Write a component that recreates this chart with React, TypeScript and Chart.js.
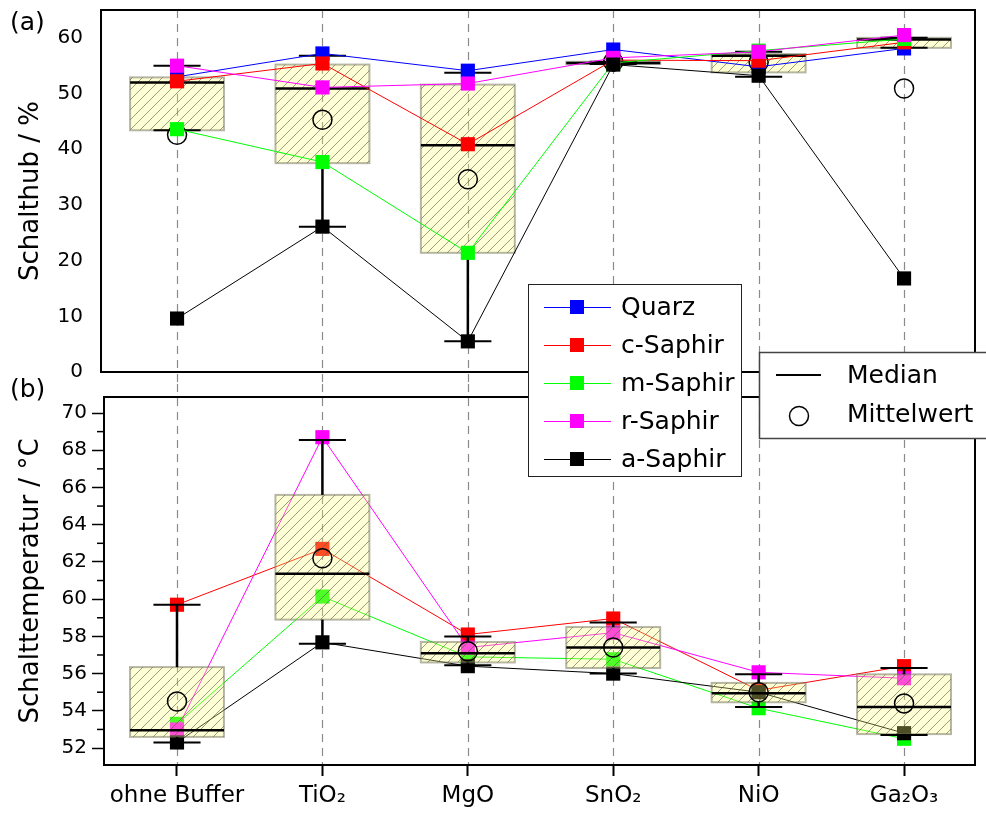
import React, { useEffect, useRef } from 'react';
import { Chart, registerables } from 'chart.js';

Chart.register(...registerables);

const FONT = "'DejaVu Sans', sans-serif";

const categories = ['ohne Buffer', 'TiO₂', 'MgO', 'SnO₂', 'NiO', 'Ga₂O₃'];
const seriesNames = ['Quarz', 'c-Saphir', 'm-Saphir', 'r-Saphir', 'a-Saphir'];
const seriesColors = ['#0000ff', '#ff0000', '#00ff00', '#ff00ff', '#000000'];

// (a) Schalthub / %
const hubQuarz = [53.0, 57.2, 54.1, 57.9, 54.8, 58.1];
const hubC = [52.2, 55.4, 40.9, 56.0, 55.9, 59.2];
const hubM = [43.6, 37.7, 21.4, 55.5, 57.7, 59.8];
const hubR = [55.0, 51.1, 51.8, 56.4, 57.5, 60.5];
const hubA = [9.6, 26.1, 5.5, 55.2, 53.2, 16.8];

// (a) box statistics
const hubQ1 = [43.4, 37.5, 21.4, 55.3, 53.8, 58.2];
const hubQ3 = [52.9, 55.2, 51.6, 55.7, 57.1, 60.0];
const hubMedian = [52.0, 50.9, 40.7, 55.5, 56.8, 59.7];
const hubWhiskerLow = [43.4, 26.1, 5.5, 55.3, 53.0, 58.2];
const hubWhiskerHigh = [55.0, 56.8, 53.75, 55.7, 57.5, 60.0];
const hubMean = [42.6, 45.3, 34.6, 55.7, 55.6, 50.9];

// (b) Schalttemperatur / °C  (no Quarz data)
const tempC = [59.7, 62.7, 58.1, 58.96, 55.1, 56.4];
const tempM = [53.3, 60.14, 56.9, 56.77, 54.14, 52.5];
const tempR = [53.0, 68.7, 57.4, 58.2, 56.07, 55.75];
const tempA = [52.3, 57.68, 56.4, 56.0, 55.0, 52.8];

// (b) box statistics
const tempQ1 = [52.6, 58.9, 56.6, 56.3, 54.46, 52.75];
const tempQ3 = [56.35, 65.6, 57.7, 58.5, 55.5, 55.96];
const tempMedian = [52.96, 61.37, 57.1, 57.4, 54.95, 54.2];
const tempWhiskerLow = [52.3, 57.6, 56.45, 56.0, 54.2, 52.7];
const tempWhiskerHigh = [59.7, 68.55, 58.0, 58.75, 55.96, 56.3];
const tempMean = [54.5, 62.2, 57.2, 57.4, 55.0, 54.4];

const hubTicks = [0, 10, 20, 30, 40, 50, 60];
const tempTicks = [52, 54, 56, 58, 60, 62, 64, 66, 68, 70];
const tempMinorTicks = [53, 55, 57, 59, 61, 63, 65, 67, 69];

const BOX_HALF = 0.323;
const CAP_HALF = 0.162;
const GAP_Y = 384;

type Stats = { q1: number[]; q3: number[]; med: number[]; lo: number[]; hi: number[]; mean: number[] };

const hubStats: Stats = { q1: hubQ1, q3: hubQ3, med: hubMedian, lo: hubWhiskerLow, hi: hubWhiskerHigh, mean: hubMean };
const tempStats: Stats = { q1: tempQ1, q3: tempQ3, med: tempMedian, lo: tempWhiskerLow, hi: tempWhiskerHigh, mean: tempMean };

function hatchTile(): HTMLCanvasElement {
  const c = document.createElement('canvas');
  c.width = 10;
  c.height = 10;
  const g = c.getContext('2d')!;
  g.strokeStyle = 'rgba(90,90,70,0.6)';
  g.lineWidth = 1;
  g.beginPath();
  g.moveTo(-1, 11);
  g.lineTo(11, -1);
  g.moveTo(-6, 6);
  g.lineTo(6, -6);
  g.moveTo(4, 16);
  g.lineTo(16, 4);
  g.stroke();
  return c;
}

function line(ctx: CanvasRenderingContext2D, x1: number, y1: number, x2: number, y2: number) {
  ctx.beginPath();
  ctx.moveTo(x1, y1);
  ctx.lineTo(x2, y2);
  ctx.stroke();
}

function drawCategoryLines(chart: any, fromY: number, toY: number) {
  const { ctx } = chart;
  const xs = chart.scales.x;
  ctx.save();
  ctx.strokeStyle = '#8a8a8a';
  ctx.lineWidth = 1.2;
  ctx.setLineDash([8, 6]);
  categories.forEach((_, i) => {
    const x = Math.round(xs.getPixelForValue(i)) + 0.5;
    line(ctx, x, fromY, x, toY);
  });
  ctx.restore();
}

function drawBoxes(chart: any, s: Stats) {
  const { ctx } = chart;
  const xs = chart.scales.x;
  const ys = chart.scales.y;
  const pattern = ctx.createPattern(hatchTile(), 'repeat');
  ctx.save();
  categories.forEach((_, i) => {
    const cx = xs.getPixelForValue(i);
    const hw = xs.getPixelForValue(i + BOX_HALF) - cx;
    const cw = xs.getPixelForValue(i + CAP_HALF) - cx;
    const top = ys.getPixelForValue(s.q3[i]);
    const bot = ys.getPixelForValue(s.q1[i]);
    ctx.fillStyle = 'rgba(255,255,120,0.3)';
    ctx.fillRect(cx - hw, top, 2 * hw, bot - top);
    if (pattern) {
      ctx.fillStyle = pattern;
      ctx.fillRect(cx - hw, top, 2 * hw, bot - top);
    }
    ctx.strokeStyle = 'rgba(110,110,85,0.5)';
    ctx.lineWidth = 2;
    ctx.strokeRect(cx - hw, top, 2 * hw, bot - top);

    const yHi = ys.getPixelForValue(s.hi[i]);
    const yLo = ys.getPixelForValue(s.lo[i]);
    ctx.strokeStyle = '#000';
    ctx.lineWidth = 2.5;
    if (yHi < top) line(ctx, cx, top, cx, yHi);
    if (yLo > bot) line(ctx, cx, bot, cx, yLo);
    ctx.lineWidth = 2;
    line(ctx, cx - cw, yHi, cx + cw, yHi);
    line(ctx, cx - cw, yLo, cx + cw, yLo);

    const yMed = ys.getPixelForValue(s.med[i]);
    ctx.lineWidth = 2.5;
    line(ctx, cx - hw, yMed, cx + hw, yMed);

    const yMean = ys.getPixelForValue(s.mean[i]);
    ctx.lineWidth = 1.5;
    ctx.beginPath();
    ctx.arc(cx, yMean, 9.5, 0, Math.PI * 2);
    ctx.stroke();
  });
  ctx.restore();
}

function drawFrame(chart: any) {
  const { ctx, chartArea: a } = chart;
  ctx.save();
  ctx.strokeStyle = '#000';
  ctx.lineWidth = 2;
  ctx.strokeRect(a.left, a.top, a.right - a.left, a.bottom - a.top);
  ctx.restore();
}

function drawPanelLabel(ctx: CanvasRenderingContext2D, text: string, x: number, y: number) {
  ctx.save();
  ctx.fillStyle = '#000';
  ctx.font = `25px ${FONT}`;
  ctx.textBaseline = 'middle';
  ctx.textAlign = 'left';
  ctx.fillText(text, x, y);
  ctx.restore();
}

function drawLegends(ctx: CanvasRenderingContext2D) {
  ctx.save();
  ctx.font = `25px ${FONT}`;
  ctx.textBaseline = 'middle';
  ctx.textAlign = 'left';

  ctx.fillStyle = '#fff';
  ctx.fillRect(528, 284, 214, 193);
  ctx.strokeStyle = '#222';
  ctx.lineWidth = 1;
  ctx.strokeRect(528.5, 284.5, 213, 192);
  seriesNames.forEach((name, k) => {
    const y = 307 + 38 * k;
    ctx.strokeStyle = seriesColors[k];
    ctx.lineWidth = 1;
    line(ctx, 544, y + 0.5, 611, y + 0.5);
    ctx.fillStyle = seriesColors[k];
    ctx.fillRect(570, y - 7, 14, 14);
    ctx.fillStyle = '#000';
    ctx.fillText(name, 621, y + 1);
  });

  ctx.fillStyle = '#fff';
  ctx.fillRect(759, 352, 240, 87);
  ctx.strokeStyle = '#444';
  ctx.lineWidth = 1.5;
  ctx.strokeRect(759.5, 352.5, 240, 86);
  ctx.strokeStyle = '#000';
  ctx.lineWidth = 2;
  line(ctx, 776, 375, 821, 375);
  ctx.lineWidth = 1.5;
  ctx.beginPath();
  ctx.arc(799, 416, 9.5, 0, Math.PI * 2);
  ctx.stroke();
  ctx.fillStyle = '#000';
  ctx.fillText('Median', 847, 376);
  ctx.fillText('Mittelwert', 847, 415);
  ctx.restore();
}

function series(values: number[], k: number) {
  return {
    label: seriesNames[k],
    data: values.map((v, i) => ({ x: i, y: v })),
    borderColor: seriesColors[k],
    backgroundColor: seriesColors[k],
    borderWidth: 1,
    pointStyle: 'rect' as const,
    pointRadius: 10,
    pointHoverRadius: 10,
    pointBorderWidth: 0,
    tension: 0,
    order: 5 - k,
  };
}

export default function App() {
  const topRef = useRef<HTMLCanvasElement>(null);
  const botRef = useRef<HTMLCanvasElement>(null);

  useEffect(() => {
    Chart.defaults.font.family = FONT;
    Chart.defaults.color = '#000';

    const topPlugin = {
      id: 'panelA',
      beforeDatasetsDraw(chart: any) {
        drawCategoryLines(chart, chart.chartArea.top, GAP_Y);
        drawBoxes(chart, hubStats);
      },
      afterDraw(chart: any) {
        drawFrame(chart);
        drawPanelLabel(chart.ctx, '(a)', 10, 23);
      },
    };

    const botPlugin = {
      id: 'panelB',
      beforeDatasetsDraw(chart: any) {
        drawCategoryLines(chart, GAP_Y, chart.chartArea.bottom);
      },
      afterDatasetsDraw(chart: any) {
        drawBoxes(chart, tempStats);
      },
      afterDraw(chart: any) {
        const { ctx, chartArea: a } = chart;
        const ys = chart.scales.y;
        drawFrame(chart);
        ctx.save();
        ctx.strokeStyle = '#000';
        ctx.lineWidth = 1.5;
        tempMinorTicks.forEach((v) => {
          const y = ys.getPixelForValue(v);
          line(ctx, a.left - 7, y, a.left, y);
        });
        ctx.restore();
        drawPanelLabel(ctx, '(b)', 10, 390);
        drawLegends(ctx);
      },
    };

    const hubSeries = [hubQuarz, hubC, hubM, hubR, hubA];
    const topChart = new Chart(topRef.current!, {
      type: 'line',
      data: { datasets: hubSeries.map((v, k) => series(v, k)) },
      options: {
        responsive: false,
        animation: false,
        devicePixelRatio: 1,
        events: [],
        layout: { padding: { left: 0, top: 9, right: 11, bottom: 442 } },
        plugins: { legend: { display: false }, tooltip: { enabled: false } },
        scales: {
          x: { type: 'linear', display: false, min: -0.523, max: 5.488 },
          y: {
            type: 'linear',
            min: 0,
            max: 65,
            afterBuildTicks: (scale: any) => {
              scale.ticks = hubTicks.map((v) => ({ value: v }));
            },
            afterFit: (scale: any) => {
              scale.width = 101;
              scale.paddingTop = 0;
              scale.paddingBottom = 0;
            },
            grid: { display: false, drawTicks: false },
            border: { display: false },
            ticks: { font: { size: 20 }, padding: 18, color: '#000' },
            title: {
              display: true,
              text: 'Schalthub / %',
              font: { size: 26 },
              color: '#000',
              padding: { top: 16, bottom: 0 },
            },
          },
        },
      },
      plugins: [topPlugin],
    } as any);

    const tempSeries = [tempC, tempM, tempR, tempA];
    const botChart = new Chart(botRef.current!, {
      type: 'line',
      data: { datasets: tempSeries.map((v, k) => series(v, k + 1)) },
      options: {
        responsive: false,
        animation: false,
        devicePixelRatio: 1,
        events: [],
        layout: { padding: { left: 0, top: 397, right: 11, bottom: 0 } },
        plugins: { legend: { display: false }, tooltip: { enabled: false } },
        scales: {
          x: {
            type: 'linear',
            min: -0.502,
            max: 5.488,
            afterBuildTicks: (scale: any) => {
              scale.ticks = categories.map((_, i) => ({ value: i }));
            },
            afterFit: (scale: any) => {
              scale.height = 49;
              scale.paddingLeft = 0;
              scale.paddingRight = 0;
            },
            grid: { drawOnChartArea: false, drawTicks: true, tickLength: 11, tickColor: '#000', tickWidth: 2 },
            border: { display: false },
            ticks: {
              font: { size: 23 },
              padding: 6,
              color: '#000',
              maxRotation: 0,
              autoSkip: false,
              callback: (v: any) => categories[v as number] ?? '',
            },
          },
          y: {
            type: 'linear',
            min: 51.09,
            max: 70.86,
            afterBuildTicks: (scale: any) => {
              scale.ticks = tempTicks.map((v) => ({ value: v }));
            },
            afterFit: (scale: any) => {
              scale.width = 104;
              scale.paddingTop = 0;
              scale.paddingBottom = 0;
            },
            grid: { drawOnChartArea: false, drawTicks: true, tickLength: 12, tickColor: '#000', tickWidth: 1.5 },
            border: { display: false },
            ticks: { font: { size: 20 }, padding: 5, color: '#000' },
            title: {
              display: true,
              text: 'Schalttemperatur / °C',
              font: { size: 26 },
              color: '#000',
              padding: { top: 16, bottom: 0 },
            },
          },
        },
      },
      plugins: [botPlugin],
    } as any);

    return () => {
      topChart.destroy();
      botChart.destroy();
    };
  }, []);

  return (
    <div style={{ position: 'absolute', left: 0, top: 0, width: 986, height: 814, background: '#fff' }}>
      <canvas ref={topRef} width={986} height={814} style={{ position: 'absolute', left: 0, top: 0 }} />
      <canvas ref={botRef} width={986} height={814} style={{ position: 'absolute', left: 0, top: 0 }} />
    </div>
  );
}
